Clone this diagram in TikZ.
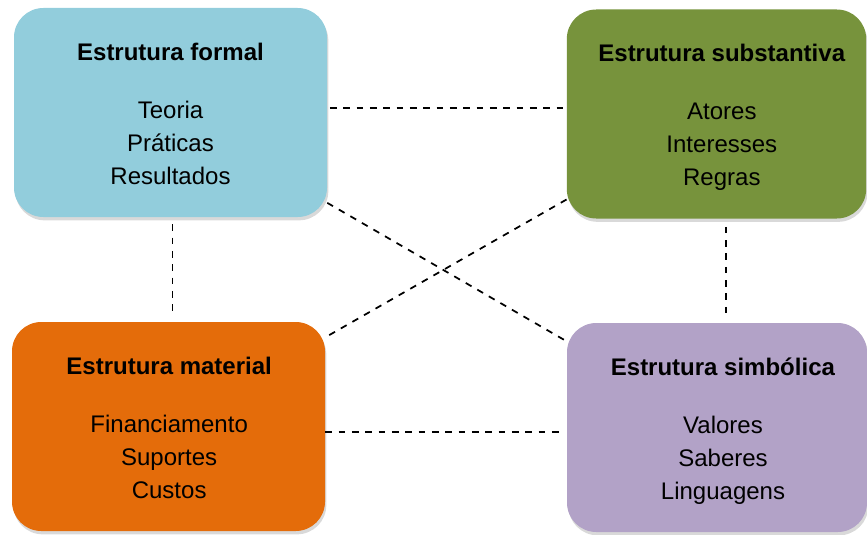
\documentclass[tikz,border=0pt]{standalone}
\usepackage{fontspec}
\setmainfont{Liberation Sans}
\usetikzlibrary{positioning,shadows,backgrounds}

\definecolor{formalblue}{HTML}{92CDDC}
\definecolor{substgreen}{HTML}{77933C}
\definecolor{materialorange}{HTML}{E46C0A}
\definecolor{simbpurple}{HTML}{B2A2C7}

\tikzset{
    box/.style={rounded corners=22pt, minimum height=156.75pt, inner sep=0pt,
        drop shadow={opacity=0.3, shadow xshift=1pt, shadow yshift=-2.5pt}},
    boxtext/.style={inner sep=0pt, align=center, font=\fontsize{18}{24.75}\selectfont},
    link/.style={line width=1.3pt, dash pattern=on 5pt off 5pt}
}

\begin{document}
\begin{tikzpicture}[y=-0.75pt,x=0.75pt]
    \useasboundingbox (0,0) rectangle (867,535);
    % one box per structure: name/colour/centre/width/text shift/title/items
    \foreach \nm/\col/\cx/\cy/\bw/\tsh/\ttl/\lst in {
        formal/formalblue/170.5/112.5/234.75/0/{Estrutura formal}/{Teoria\\Práticas\\Resultados},
        subst/substgreen/716.5/114/224.5/4/{Estrutura substantiva}/{Atores\\Interesses\\Regras},
        material/materialorange/168.5/426.5/234.75/0.5/{Estrutura material}/{Financiamento\\Suportes\\Custos},
        simb/simbpurple/717/427.5/225/4.5/{Estrutura simbólica}/{Valores\\Saberes\\Linguagens}}{
        \node[box, fill=\col, minimum width=\bw pt] (\nm) at (\cx,\cy) {};
        \node[boxtext, below=26.25pt of \nm.north, xshift=\tsh pt] (\nm-text) {\textbf{\ttl}\\[18.75pt]\lst};
    }

    \draw[link, shorten <=2pt] ([yshift=3.4pt]formal.east) -- ([yshift=3.4pt]formal.east -| subst.west);
    \draw[link, shorten >=3pt] ([yshift=-3.9pt]material.east) -- ([yshift=-3.9pt]material.east -| simb.west);
    \draw[link, shorten <=5.2pt, shorten >=5.2pt] ([xshift=1.4pt]formal.south) -- ([xshift=1.4pt]formal.south |- material.north);
    \draw[link, shorten <=6pt, shorten >=5.2pt] ([xshift=7.1pt]subst.south) -- ([xshift=7.1pt]subst.south |- simb.north);

    \begin{scope}[on background layer]
        \draw[link] (formal) -- (simb);
        \draw[link] (subst) -- (material);
    \end{scope}
\end{tikzpicture}
\end{document}
